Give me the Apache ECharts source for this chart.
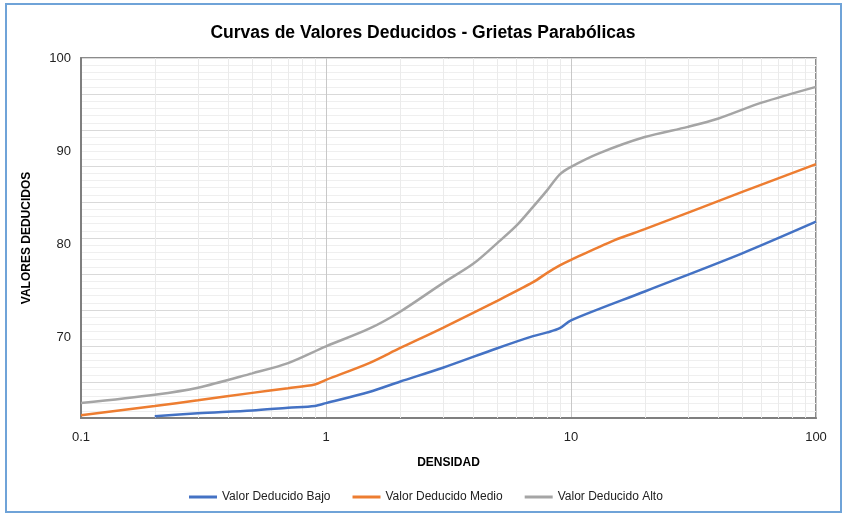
<!DOCTYPE html>
<html>
<head>
<meta charset="utf-8">
<script src="https://cdn.jsdelivr.net/npm/echarts@6/dist/echarts.min.js"></script>
<style>html,body{margin:0;padding:0;background:#fff;}#c{width:846px;height:516px;}</style>
</head>
<body>
<div id="c"></div>
<script>
var titleText = 'Curvas de Valores Deducidos - Grietas Parabólicas';
var seriesNames = ['Valor Deducido Bajo', 'Valor Deducido Medio', 'Valor Deducido Alto'];
var yTicks = [70, 80, 90, 100];
var minorX = [0.2,0.3,0.4,0.5,0.6,0.7,0.8,0.9,2,3,4,5,6,7,8,9,20,30,40,50,60,70,80,90];

var xBajo = [0.2, 0.3, 0.5, 0.7, 0.9, 1, 1.5, 2, 3, 5, 7, 8, 9, 10, 20, 50, 100];
var yBajo = [61.5, 61.8, 62.1, 62.4, 62.6, 62.9, 64.1, 65.2, 66.7, 68.8, 70.1, 70.5, 70.95, 71.8, 74.9, 79.0, 82.4];

var xMedio = [0.1, 0.2, 0.3, 0.5, 0.7, 0.9, 1, 1.5, 2, 3, 5, 7, 8, 9, 10, 15, 20, 50, 100];
var yMedio = [61.6, 62.6, 63.2, 64.0, 64.5, 64.9, 65.4, 67.2, 68.8, 71.0, 73.9, 75.9, 76.9, 77.7, 78.3, 80.4, 81.6, 85.6, 88.6];

var xAlto = [0.1, 0.2, 0.3, 0.5, 0.7, 1, 1.5, 2, 3, 4, 5, 6, 7, 8, 9, 10, 13, 20, 30, 40, 60, 100];
var yAlto = [62.9, 63.8, 64.55, 66.1, 67.2, 69.0, 70.9, 72.7, 75.8, 77.9, 80.1, 82.0, 84.0, 85.8, 87.5, 88.3, 89.75, 91.5, 92.6, 93.5, 95.2, 96.9];

function pairs(xs, ys) { return xs.map(function (x, i) { return [x, ys[i]]; }); }

var chart = echarts.init(document.getElementById('c'), null, {renderer: 'canvas'});
var sans = "'Liberation Sans', Arial, sans-serif";
function lineSeries(name, data, color) {
  return {
    name: name, type: 'line', data: data, xAxisIndex: 0, yAxisIndex: 0,
    smooth: 0.3, showSymbol: false, symbol: 'none', z: 5,
    lineStyle: {color: color, width: 2.5}, itemStyle: {color: color}, animation: false
  };
}
chart.setOption({
  animation: false,
  backgroundColor: '#fff',
  title: {
    text: titleText, left: 'center', top: 19,
    textStyle: {fontFamily: sans, fontSize: 17.5, fontWeight: 'bold', color: '#000'}
  },
  graphic: [{
    type: 'rect', shape: {x: 6, y: 4, width: 835, height: 508},
    style: {fill: 'none', stroke: '#6fa3d8', lineWidth: 2}, silent: true, z: -1
  }],
  grid: {left: 81, right: 30, top: 58, bottom: 98, show: true, borderColor: '#666', borderWidth: 1.5, backgroundColor: 'transparent'},
  legend: {
    data: seriesNames, left: 184, top: 486, itemWidth: 28, itemHeight: 3, itemGap: 22,
    icon: 'rect',
    textStyle: {fontFamily: sans, fontSize: 12, color: '#222'}
  },
  xAxis: [{
    type: 'log', logBase: 10, min: 0.1, max: 100,
    name: 'DENSIDAD', nameLocation: 'middle', nameGap: 39,
    nameTextStyle: {fontFamily: sans, fontSize: 12, fontWeight: 'bold', color: '#000'},
    axisLine: {lineStyle: {color: '#7f7f7f', width: 2}},
    axisTick: {show: false},
    axisLabel: {fontFamily: sans, fontSize: 13, color: '#222', margin: 13},
    splitLine: {show: true, lineStyle: {color: '#c8c8c8', width: 1}}
  }],
  yAxis: [{
    type: 'value', min: 61.3, max: 100,
    name: 'VALORES DEDUCIDOS', nameLocation: 'middle', nameGap: 48,
    nameTextStyle: {fontFamily: sans, fontSize: 12, fontWeight: 'bold', color: '#000'},
    axisLine: {show: true, lineStyle: {color: '#7f7f7f', width: 2}},
    axisTick: {show: false},
    axisLabel: {fontFamily: sans, fontSize: 13, color: '#222', margin: 10, customValues: yTicks},
    splitLine: {show: false}
  }, {
    type: 'value', min: 0, max: 10, interval: 1, position: 'right',
    axisLine: {show: false}, axisTick: {show: false}, axisLabel: {show: false},
    splitLine: {show: true, lineStyle: {color: '#d9d9d9', width: 1}},
    minorTick: {show: false, splitNumber: 5},
    minorSplitLine: {show: true, lineStyle: {color: '#efefef', width: 1}}
  }],
  series: [
    {
      name: 'minor', type: 'line', data: [], xAxisIndex: 0, yAxisIndex: 0, z: 1, silent: true,
      markLine: {
        silent: true, symbol: 'none', animation: false,
        label: {show: false},
        lineStyle: {type: 'solid', color: '#ebebeb', width: 1},
        data: minorX.map(function (v) { return {xAxis: v}; })
      }
    },
    lineSeries(seriesNames[0], pairs(xBajo, yBajo), '#4472c4'),
    lineSeries(seriesNames[1], pairs(xMedio, yMedio), '#ed7d31'),
    lineSeries(seriesNames[2], pairs(xAlto, yAlto), '#a5a5a5')
  ]
});
</script>
</body>
</html>
